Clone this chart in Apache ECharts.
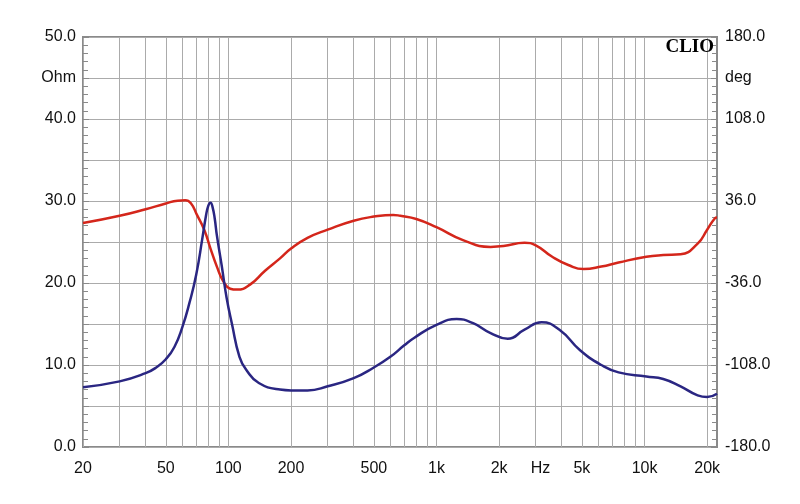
<!DOCTYPE html>
<html>
<head>
<meta charset="utf-8">
<script src="https://cdn.jsdelivr.net/npm/echarts@6/dist/echarts.min.js"></script>
<style>html,body{margin:0;padding:0;background:#fff}#c{width:800px;height:504px}</style>
</head>
<body>
<div id="c"></div>
<script>
// Impedance (Ohm) - blue
const freqImp = [20,30,40,45,50,55,60,65,70,75,78,80,82,84,86,88,93,98,104,113,122,140,177,200,240,300,400,500,600,700,780,1000,1250,1500,1820,2200,2650,3200,3900,4900,6200,7500,10200,12300,14900,18000,20000,22300];
const impedance = [7.3,8.0,9.0,9.7,10.7,12.2,14.6,17.6,21.0,25.5,28.2,29.4,29.8,29.2,27.8,25.8,22.0,18.2,15.0,11.0,9.4,7.8,7.0,6.9,6.9,7.4,8.4,9.7,11.0,12.4,13.3,14.9,15.6,15.1,13.9,13.2,14.3,15.2,14.3,11.8,10.0,9.1,8.6,8.3,7.4,6.3,6.1,6.5];
// Phase (deg) - red
const freqPhase = [20,30,40,50,57,62,66,70.5,76.5,82,88,94.5,102,110,127,150,177,200,240,300,400,500,620,670,800,1000,1350,1820,2100,2650,3000,3600,4300,5100,6200,7500,10200,12300,14900,18000,20000,21800,22300];
const phaseDeg = [16.6,23.0,28.8,33.8,36.3,36.6,34.0,24.0,10.8,-5.8,-21.6,-34.6,-41.0,-41.8,-37.4,-25.2,-14.4,-5.8,3.6,10.8,18.7,22.3,23.8,23.0,20.2,13.0,1.4,-4.3,-3.6,-0.7,-2.9,-13.0,-20.2,-23.8,-21.6,-18.0,-13.0,-11.5,-10.8,-1.4,10.8,20.9,21.6];
// Axis ticks / labels
const gridFreqs = [20,30,40,50,60,70,80,90,100,200,300,400,500,600,700,800,900,1000,2000,3000,4000,5000,6000,7000,8000,9000,10000,20000];
const xLabelFreqs = [20,50,100,200,500,1000,2000,3162,5000,10000,20000];
const xLabelTexts = ['20','50','100','200','500','1k','2k','Hz','5k','10k','20k'];
const fMin = 20, fMax = 22300;

const lg = Math.log10;
const font = 'Liberation Sans';
const labelMap = {};
xLabelFreqs.forEach((f, i) => { labelMap[lg(f).toFixed(4)] = xLabelTexts[i]; });

const chart = echarts.init(document.getElementById('c'), null, {renderer: 'canvas'});
chart.setOption({
  animation: false,
  backgroundColor: '#ffffff',
  title: {
    text: 'CLIO', right: 86, top: 38, padding: 0,
    textStyle: {fontFamily: 'Liberation Serif', fontWeight: 'bold', fontSize: 19, color: '#000'}
  },
  grid: {left: 83, right: 83, top: 37, bottom: 57, show: true, borderColor: '#8a8a8a', borderWidth: 2, backgroundColor: 'transparent'},
  xAxis: {
    type: 'value', min: lg(fMin), max: lg(fMax),
    axisLine: {show: false},
    axisTick: {show: false, customValues: gridFreqs.map(lg)},
    splitLine: {show: true, lineStyle: {color: '#ababab', width: 1}},
    axisLabel: {
      customValues: xLabelFreqs.map(lg), margin: 14,
      fontFamily: font, fontSize: 16, color: '#111',
      formatter: v => labelMap[v.toFixed(4)] || ''
    }
  },
  yAxis: [
    {
      type: 'value', min: 0, max: 50, interval: 5, position: 'left',
      axisLine: {show: false},
      axisTick: {show: true, inside: true, length: 6, lineStyle: {color: '#8a8a8a'}},
      minorTick: {show: true, splitNumber: 5, length: 5, lineStyle: {color: '#8a8a8a'}},
      splitLine: {show: true, lineStyle: {color: '#ababab', width: 1}},
      axisLabel: {
        fontFamily: font, fontSize: 16, color: '#111', margin: 7,
        showMinLabel: true, showMaxLabel: true,
        formatter: v => v === 45 ? 'Ohm' : (v % 10 === 0 ? v.toFixed(1) : '')
      }
    },
    {
      type: 'value', min: -180, max: 180, interval: 36, position: 'right',
      axisLine: {show: false},
      axisTick: {show: true, inside: true, length: 6, lineStyle: {color: '#8a8a8a'}},
      minorTick: {show: true, splitNumber: 5, length: 5, lineStyle: {color: '#8a8a8a'}},
      splitLine: {show: false},
      axisLabel: {
        fontFamily: font, fontSize: 16, color: '#111', margin: 8,
        showMinLabel: true, showMaxLabel: true,
        formatter: v => {
          const r = Math.round(v);
          if (r === 144) return 'deg';
          return (Math.round((r + 180) / 36) % 2 === 0) ? r.toFixed(1) : '';
        }
      }
    }
  ],
  series: [
    {
      name: 'Phase', type: 'line', yAxisIndex: 1, smooth: 0.5, showSymbol: false,
      lineStyle: {color: '#d4261b', width: 2.5},
      data: freqPhase.map((f, i) => [lg(f), phaseDeg[i]])
    },
    {
      name: 'Impedance', type: 'line', yAxisIndex: 0, smooth: 0.5, showSymbol: false,
      lineStyle: {color: '#2a2682', width: 2.5},
      data: freqImp.map((f, i) => [lg(f), impedance[i]])
    }
  ]
});
</script>
</body>
</html>
